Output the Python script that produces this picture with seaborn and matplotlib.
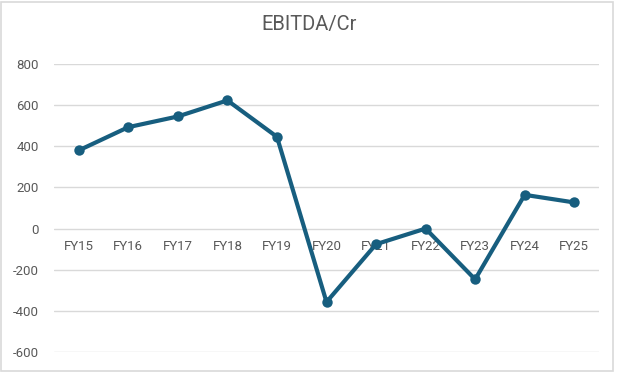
import matplotlib
matplotlib.use("Agg")
import matplotlib.pyplot as plt
from matplotlib.patches import Rectangle
import pandas as pd
import seaborn as sns

years = ['FY15', 'FY16', 'FY17', 'FY18', 'FY19', 'FY20',
         'FY21', 'FY22', 'FY23', 'FY24', 'FY25']
ebitda = [380, 493, 545, 623, 446, -357, -76, 0, -247, 164, 127]
yticks = [-600, -400, -200, 0, 200, 400, 600, 800]

df = pd.DataFrame({'year': years, 'ebitda': ebitda})

sns.set_theme(style='white')
plt.rcParams['font.family'] = ['Roboto', 'DejaVu Sans']

fig = plt.figure(figsize=(6.19, 3.72), dpi=100)
ax = fig.add_axes([54 / 619, 1 - 352 / 372, 545 / 619, 288 / 372])

sns.lineplot(data=df, x='year', y='ebitda', ax=ax, color='#175E7F',
             linewidth=3, marker='o', markersize=7.5,
             markeredgewidth=0, zorder=3)

ax.set_xlim(-0.5, len(years) - 0.5)
ax.set_ylim(-600, 800)
ax.set_yticks(yticks)
ax.set_yticklabels([str(v) for v in yticks])
ax.yaxis.grid(True, color='#D9D9D9', linewidth=1)
ax.set_axisbelow(True)
for s in ax.spines.values():
    s.set_visible(False)
ax.spines['bottom'].set_position(('data', 0))
ax.tick_params(axis='x', length=0, pad=8, labelsize=9.5, labelcolor='#595959')
ax.tick_params(axis='y', length=0, pad=11, labelsize=9.5, labelcolor='#595959')
ax.set_xlabel('')
ax.set_ylabel('')

fig.suptitle('EBITDA/Cr', x=0.5, y=0.96, fontsize=14.5, color='#595959')

fig.patches.append(Rectangle((0.002, 0.004), 0.988, 0.99, transform=fig.transFigure,
                             fill=False, edgecolor='#D9D9D9', linewidth=1.2))

fig.savefig('out.png', dpi=100, facecolor='white')
